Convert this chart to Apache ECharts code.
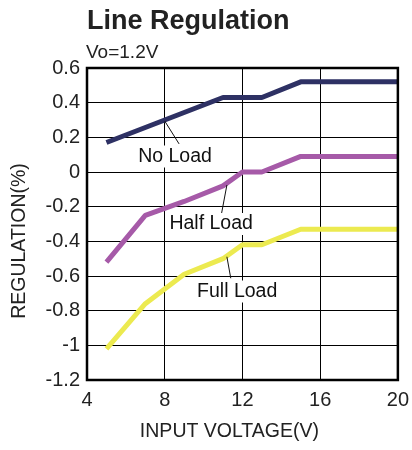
<!DOCTYPE html>
<html>
<head>
<meta charset="utf-8">
<title>Line Regulation</title>
<script src="https://cdn.jsdelivr.net/npm/echarts@6/dist/echarts.min.js"></script>
<style>
html, body { margin: 0; padding: 0; background: #fff; }
#chart { width: 412px; height: 450px; }
</style>
</head>
<body>
<div id="chart"></div>
<script>
// input voltage (V) / regulation (%)
var noLoadV = [5, 8, 11, 13, 15, 20];
var noLoadR = [0.17, 0.30, 0.43, 0.43, 0.52, 0.52];
var halfLoadV = [5, 7, 9, 11, 12, 13, 15, 20];
var halfLoadR = [-0.52, -0.25, -0.17, -0.08, 0, 0, 0.09, 0.09];
var fullLoadV = [5, 7, 9, 11, 12, 13, 15, 20];
var fullLoadR = [-1.02, -0.76, -0.59, -0.50, -0.42, -0.42, -0.33, -0.33];

// curve labels: [name, label x, label y, leader from x, from y, to x, to y]
var curveLabels = [
	['No Load', 8.53, 0.09, 8.0, 0.294, 8.74, 0.162],
	['Half Load', 10.39, -0.30, 11.2, -0.075, 10.91, -0.248],
	['Full Load', 11.73, -0.69, 11.2, -0.489, 11.4, -0.613]
];

var font = 'Liberation Sans, Arial, sans-serif';
var myChart = echarts.init(document.getElementById('chart'));

function pairs(xs, ys) {
	return xs.map(function(x, i){ return [x, ys[i]]; });
}

function lineSeries(name, xs, ys, color) {
	return {
		name: name,
		type: 'line',
		data: pairs(xs, ys),
		symbol: 'none',
		lineStyle: { color: color, width: 5 },
		z: 3
	};
}

var series = [
	lineSeries('No Load', noLoadV, noLoadR, '#2e3164'),
	lineSeries('Half Load', halfLoadV, halfLoadR, '#a65aa8'),
	lineSeries('Full Load', fullLoadV, fullLoadR, '#ecea50')
];

// labels and leader lines, placed in data coordinates
series.push({
	type: 'scatter',
	data: curveLabels.map(function(c){ return { name: c[0], value: [c[1], c[2]] }; }),
	symbolSize: 0,
	itemStyle: { opacity: 1 },
	z: 5,
	label: {
		show: true,
		position: 'inside',
		formatter: '{b}',
		color: '#111',
		fontFamily: font,
		fontSize: 19.5,
		backgroundColor: '#fff',
		padding: [1, 2, 1, 2]
	},
	markLine: {
		silent: true,
		symbol: 'none',
		lineStyle: { color: '#111', width: 1, type: 'solid', opacity: 1 },
		label: { show: false },
		data: curveLabels.map(function(c){
			return [{ coord: [c[3], c[4]] }, { coord: [c[5], c[6]] }];
		})
	}
});

var option = {
	animation: false,
	backgroundColor: '#fff',
	title: [{
		text: 'Line Regulation',
		left: 82,
		top: 3,
		textStyle: { fontFamily: font, fontSize: 27, fontWeight: 'bold', color: '#222' }
	}, {
		text: 'Vo=1.2V',
		left: 81,
		top: 38,
		textStyle: { fontFamily: font, fontSize: 19, fontWeight: 'normal', color: '#222' }
	}],
	grid: {
		left: 87, right: 11, top: 68, bottom: 70,
		show: true,
		borderColor: '#000',
		borderWidth: 2.5,
		z: 4
	},
	xAxis: {
		type: 'value',
		min: 4, max: 20, interval: 4,
		name: 'INPUT VOLTAGE(V)',
		nameLocation: 'middle',
		nameGap: 42,
		nameTextStyle: { fontFamily: font, fontSize: 19.5, color: '#222', padding: [0, 26, 0, 0] },
		axisLine: { show: false },
		axisTick: { show: false },
		axisLabel: { fontFamily: font, fontSize: 20, color: '#222', margin: 10 },
		splitLine: { show: true, lineStyle: { color: '#000', width: 1 } }
	},
	yAxis: {
		type: 'value',
		min: -1.2, max: 0.6, interval: 0.2,
		name: 'REGULATION(%)',
		nameLocation: 'middle',
		nameGap: 57,
		nameTextStyle: { fontFamily: font, fontSize: 19.5, color: '#222', padding: [0, 34, 0, 0] },
		axisLine: { show: false },
		axisTick: { show: false },
		axisLabel: {
			fontFamily: font, fontSize: 20, color: '#222', margin: 7,
			formatter: function(v){ return String(+v.toFixed(1)); }
		},
		splitLine: { show: true, lineStyle: { color: '#000', width: 1 } }
	},
	series: series
};

myChart.setOption(option);
</script>
</body>
</html>
